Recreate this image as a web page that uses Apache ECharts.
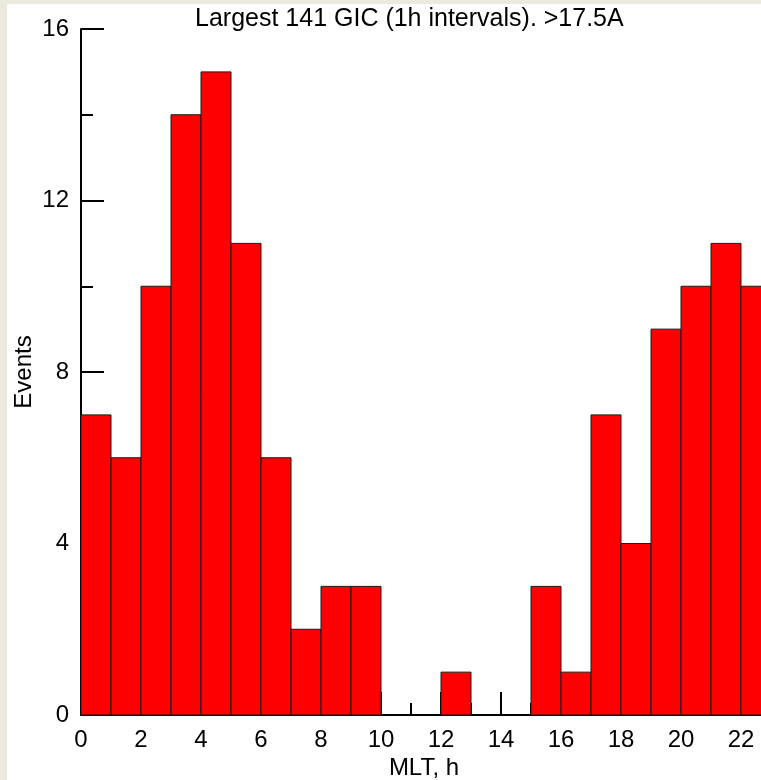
<!DOCTYPE html>
<html>
<head>
<meta charset="utf-8">
<script src="https://cdn.jsdelivr.net/npm/echarts@6/dist/echarts.min.js"></script>
<style>
  html, body { margin: 0; padding: 0; background: #ffffff; overflow: hidden; width: 761px; height: 780px; }
  #chart { width: 801px; height: 780px; }
</style>
</head>
<body>
<div id="chart"></div>
<script>
// MLT hour bins (start of each 1h interval)
const hours = [0,1,2,3,4,5,6,7,8,9,10,11,12,13,14,15,16,17,18,19,20,21,22,23];
// Number of events per bin (total 141)
const events = [7,6,10,14,15,11,6,2,3,3,0,0,1,0,0,3,1,7,4,9,10,11,10,8];
const titleText = 'Largest 141 GIC (1h intervals). >17.5A';
const xName = 'MLT, h';
const yName = 'Events';

const FONT = "'Liberation Sans', Arial, sans-serif";
const chart = echarts.init(document.getElementById('chart'), null, { renderer: 'canvas' });

const seriesData = hours.map((h, i) => [h, events[i]]);

chart.setOption({
  animation: false,
  backgroundColor: '#ffffff',
  title: {
    text: titleText,
    left: 195,
    top: 7,
    padding: 0,
    textStyle: { fontFamily: FONT, fontSize: 25, fontWeight: 'normal', color: '#000' }
  },
  graphic: [
    { type: 'rect', left: 0, top: 0, shape: { width: 7, height: 780 }, style: { fill: '#ECE9DF' }, z: 100 },
    { type: 'rect', left: 0, top: 0, shape: { width: 801, height: 4 }, style: { fill: '#ECE9DF' }, z: 100 }
  ],
  grid: { left: 81, right: 0, top: 29, bottom: 65, containLabel: false, outerBoundsMode: 'none' },
  xAxis: {
    type: 'value',
    min: 0, max: 24, interval: 2,
    name: xName,
    nameLocation: 'middle',
    nameGap: 41,
    nameMoveOverlap: false,
    nameTextStyle: { fontFamily: FONT, fontSize: 24, color: '#000', padding: [0, 34, 0, 0] },
    axisLine: { show: true, lineStyle: { color: '#000', width: 2 } },
    axisTick: { show: true, inside: true, length: 23, lineStyle: { color: '#000', width: 2 } },
    minorTick: { show: true, splitNumber: 2, length: 12, lineStyle: { color: '#000', width: 2 } },
    axisLabel: { fontFamily: FONT, fontSize: 24, color: '#000', margin: 13, showMaxLabel: false },
    splitLine: { show: false }
  },
  yAxis: {
    type: 'value',
    min: 0, max: 16, interval: 4,
    name: yName,
    nameLocation: 'middle',
    nameGap: 45,
    nameRotate: 90,
    nameMoveOverlap: false,
    nameTextStyle: { fontFamily: FONT, fontSize: 24, color: '#000' },
    axisLine: { show: true, lineStyle: { color: '#000', width: 2 } },
    axisTick: { show: true, inside: true, length: 23, lineStyle: { color: '#000', width: 2 } },
    minorTick: { show: true, splitNumber: 2, length: 12, lineStyle: { color: '#000', width: 2 } },
    axisLabel: { fontFamily: FONT, fontSize: 24, color: '#000', margin: 12 },
    splitLine: { show: false }
  },
  series: [{
    type: 'custom',
    data: seriesData,
    encode: { x: 0, y: 1 },
    renderItem: function (params, api) {
      const x = api.value(0);
      const v = api.value(1);
      if (!v) return null;
      const p0 = api.coord([x, 0]);
      const p1 = api.coord([x + 1, v]);
      return {
        type: 'rect',
        shape: { x: p0[0], y: p1[1], width: p1[0] - p0[0], height: p0[1] - p1[1] },
        style: { fill: '#FF0000', stroke: '#1a1a1a', lineWidth: 1 }
      };
    }
  }]
});
</script>
</body>
</html>
